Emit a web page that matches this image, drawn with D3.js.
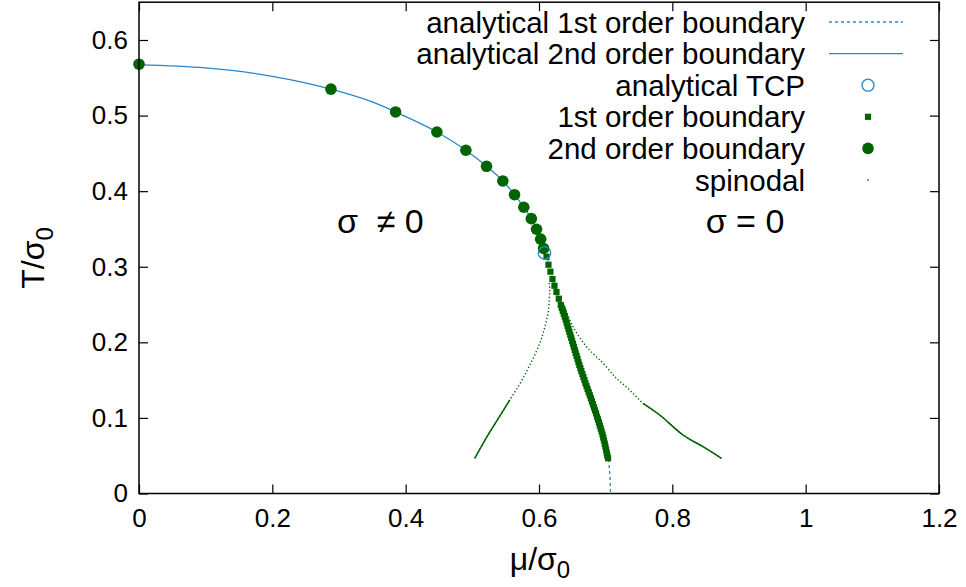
<!DOCTYPE html>
<html><head><meta charset="utf-8">
<script src="https://cdn.jsdelivr.net/npm/d3@7"></script>
<style>body{margin:0;background:#fff}svg{display:block}text{font-family:"Liberation Sans",Arial,sans-serif;fill:#000}</style>
</head><body><svg id="c" width="966" height="587"></svg>
<script>
// ---- data (mu/sigma0, T/sigma0) ----
const xTicks = [0, 0.2, 0.4, 0.6, 0.8, 1, 1.2];
const yTicks = [0, 0.1, 0.2, 0.3, 0.4, 0.5, 0.6];
const legendLabels = ["analytical 1st order boundary","analytical 2nd order boundary","analytical TCP","1st order boundary","2nd order boundary","spinodal"];

const analytic2nd = [[0,0.567],[0.1,0.563],[0.2,0.552],[0.2879,0.535],[0.35,0.518],[0.3849,0.5048],[0.4468,0.4783],[0.4903,0.4541],[0.5213,0.4329],[0.5457,0.4135],[0.5633,0.3953],[0.5772,0.3787],[0.5885,0.3636],[0.5963,0.3496],[0.6025,0.3365],[0.6069,0.3242],[0.6082,0.3183]];
const analytic1st = [[0.6082,0.3183],[0.6113,0.3133],[0.6171,0.2935],[0.6262,0.2666],[0.6327,0.2494],[0.6387,0.2339],[0.6537,0.1899],[0.6697,0.1458],[0.6871,0.1016],[0.6946,0.0797],[0.7001,0.0598],[0.7036,0.0466],[0.7058,0.030],[0.7068,0.015],[0.7071,0.0]];
const tcp = [[0.6082,0.3183]];
const order2 = [[0,0.568],[0.2879,0.535],[0.3849,0.5048],[0.4468,0.4783],[0.4903,0.4541],[0.5213,0.4329],[0.5457,0.4135],[0.5633,0.3953],[0.5772,0.3787],[0.5885,0.3636],[0.5963,0.3496],[0.6025,0.3365],[0.6069,0.3242]];
const order1 = [[0.6113,0.3133],[0.6142,0.3027],[0.6171,0.2935],[0.6202,0.2838],[0.6232,0.2749],[0.6262,0.2666],[0.6297,0.2577],[0.6327,0.2494],
[0.6342,0.2455],[0.6357,0.2416],[0.6372,0.2378],[0.6387,0.2339],[0.6401,0.2300],[0.6415,0.2260],[0.6428,0.2220],[0.6442,0.2180],[0.6455,0.2140],[0.6469,0.2100],[0.6483,0.2060],[0.6496,0.2020],[0.6510,0.1980],[0.6523,0.1940],[0.6537,0.1899],[0.6550,0.1860],[0.6564,0.1820],[0.6578,0.1780],[0.6591,0.1740],[0.6605,0.1700],[0.6620,0.1660],[0.6635,0.1620],[0.6651,0.1580],[0.6666,0.1540],[0.6682,0.1500],[0.6697,0.1458],[0.6713,0.1420],[0.6729,0.1380],[0.6746,0.1340],[0.6762,0.1300],[0.6778,0.1260],[0.6794,0.1220],[0.6809,0.1180],[0.6825,0.1140],[0.6840,0.1100],[0.6856,0.1060],[0.6871,0.1016],[0.6885,0.0980],[0.6899,0.0940],[0.6912,0.0900],[0.6926,0.0860],[0.6940,0.0820],[0.6953,0.0780],[0.6964,0.0740],[0.6975,0.0700],[0.6986,0.0660],[0.6996,0.0620],[0.7006,0.0580],[0.7016,0.0540],[0.7025,0.0500],[0.7036,0.0466]];
const spinodalLeft = [[0.6154,0.2785],[0.6162,0.2693],[0.6154,0.2560],[0.6136,0.2384],[0.6102,0.2252],[0.6061,0.2120],[0.6012,0.1987],[0.5937,0.1833],[0.5862,0.1700],[0.5787,0.1568],[0.5687,0.1413],[0.5562,0.1237],[0.5438,0.1061],[0.5312,0.0884],[0.5162,0.0664],[0.5037,0.0466]];
const spinodalRight = [[0.6387,0.2472],[0.6511,0.2207],[0.6712,0.1942],[0.6961,0.1723],[0.7162,0.1524],[0.7361,0.1369],[0.7561,0.1193],[0.7811,0.1039],[0.8160,0.0774],[0.8460,0.0619],[0.8736,0.0466]];
const annotations = [{t:"σ  ≠ 0", mu:0.362, T:0.345},{t:"σ = 0", mu:0.909, T:0.345}];

// ---- layout ----
const svg = d3.select("#c");
const L=139, R=939, T0=2.2, B=493.5;
const x = d3.scaleLinear().domain([0,1.2]).range([L,R]);
const y = d3.scaleLinear().domain([0,0.65]).range([B,T0]);
const blue="#2a86c9", green="#006400";

// axes (gnuplot style: inward ticks on all sides)
const tickLen=9;
svg.append("g").attr("transform",`translate(0,${B})`)
  .call(d3.axisBottom(x).tickValues(xTicks).tickFormat(d3.format("~g")).tickSizeInner(-tickLen).tickSizeOuter(0).tickPadding(15))
  .call(g=>{g.select(".domain").remove();g.selectAll("line").attr("stroke","#000").attr("stroke-width",1.2);g.selectAll("text").attr("font-size",26).attr("dy","0.71em");});
svg.append("g").attr("transform",`translate(0,${T0})`)
  .call(d3.axisTop(x).tickValues(xTicks).tickFormat("").tickSizeInner(-tickLen).tickSizeOuter(0))
  .call(g=>{g.select(".domain").remove();g.selectAll("line").attr("stroke","#000").attr("stroke-width",1.2);});
svg.append("g").attr("transform",`translate(${L},0)`)
  .call(d3.axisLeft(y).tickValues(yTicks).tickFormat(d3.format("~g")).tickSizeInner(-tickLen).tickSizeOuter(0).tickPadding(11))
  .call(g=>{g.select(".domain").remove();g.selectAll("line").attr("stroke","#000").attr("stroke-width",1.2);g.selectAll("text").attr("font-size",26);});
svg.append("g").attr("transform",`translate(${R},0)`)
  .call(d3.axisRight(y).tickValues(yTicks).tickFormat("").tickSizeInner(-tickLen).tickSizeOuter(0))
  .call(g=>{g.select(".domain").remove();g.selectAll("line").attr("stroke","#000").attr("stroke-width",1.2);});

// axis titles
const yl = svg.append("text").attr("transform","translate(44,258) rotate(-90)").attr("text-anchor","middle").attr("font-size",32);
yl.append("tspan").text("T/σ");
yl.append("tspan").attr("font-size",24).attr("dy",9).text("0");
const xl = svg.append("text").attr("x",540).attr("y",570).attr("text-anchor","middle").attr("font-size",32);
xl.append("tspan").text("μ/σ");
xl.append("tspan").attr("font-size",24).attr("dy",8).text("0");

// annotations
svg.selectAll("text.ann").data(annotations).join("text").attr("class","ann")
  .attr("x",d=>x(d.mu)).attr("y",d=>y(d.T)).attr("text-anchor","middle").attr("font-size",34)
  .style("white-space","pre").text(d=>d.t);

const mkLine = c => d3.line().x(d=>x(d[0])).y(d=>y(d[1])).curve(c);
const plot = svg.append("g");

// spinodal (tiny dots; sparse near the top, dense lower down)
[spinodalLeft, spinodalRight].forEach(s=>{
  plot.append("path").attr("d",mkLine(d3.curveCatmullRom)(s)).attr("fill","none").attr("stroke",green)
    .attr("stroke-width",1.4).attr("stroke-dasharray","1.3,2.2");
  plot.append("path").attr("d",mkLine(d3.curveCatmullRom)(s.filter(d=>d[1]<=0.125))).attr("fill","none").attr("stroke",green)
    .attr("stroke-width",1.5);
});

// analytical lines
plot.append("path").attr("d",mkLine(d3.curveMonotoneY)(analytic1st))
  .attr("fill","none").attr("stroke",blue).attr("stroke-width",1.3).attr("stroke-dasharray","3,3");
plot.append("path").attr("d",mkLine(d3.curveMonotoneX)(analytic2nd))
  .attr("fill","none").attr("stroke",blue).attr("stroke-width",1.3);

// 1st order boundary squares
const sq=6.2;
plot.selectAll("rect.o1").data(order1).join("rect").attr("class","o1")
  .attr("x",d=>x(d[0])-sq/2).attr("y",d=>y(d[1])-sq/2).attr("width",sq).attr("height",sq).attr("fill",green);
// 2nd order boundary circles
plot.selectAll("circle.o2").data(order2).join("circle").attr("class","o2")
  .attr("cx",d=>x(d[0])).attr("cy",d=>y(d[1])).attr("r",5.8).attr("fill",green);
// TCP
plot.selectAll("circle.tcp").data(tcp).join("circle").attr("class","tcp")
  .attr("cx",d=>x(d[0])).attr("cy",d=>y(d[1])).attr("r",6.2).attr("fill","none").attr("stroke",blue).attr("stroke-width",1.3);

// frame
svg.append("rect").attr("x",L).attr("y",T0).attr("width",R-L).attr("height",B-T0).attr("fill","none").attr("stroke","#000").attr("stroke-width",1.5);

// legend
const lg = svg.append("g");
const rowY = i => 22 + i*31.6;
const tx=805, sx0=829, sx1=903, sxm=868;
lg.selectAll("text").data(legendLabels).join("text").attr("x",tx).attr("y",(d,i)=>rowY(i)).attr("dy","0.36em")
  .attr("text-anchor","end").attr("font-size",29.5).text(d=>d);
lg.append("line").attr("x1",sx0).attr("x2",sx1).attr("y1",rowY(0)).attr("y2",rowY(0)).attr("stroke",blue).attr("stroke-width",1.3).attr("stroke-dasharray","3,3");
lg.append("line").attr("x1",sx0).attr("x2",sx1).attr("y1",rowY(1)).attr("y2",rowY(1)).attr("stroke",blue).attr("stroke-width",1.3);
lg.append("circle").attr("cx",sxm).attr("cy",rowY(2)).attr("r",6).attr("fill","none").attr("stroke",blue).attr("stroke-width",1.3);
lg.append("rect").attr("x",sxm-sq/2).attr("y",rowY(3)-sq/2).attr("width",sq).attr("height",sq).attr("fill",green);
lg.append("circle").attr("cx",sxm).attr("cy",rowY(4)).attr("r",5.8).attr("fill",green);
lg.append("rect").attr("x",sxm-0.75).attr("y",rowY(5)-0.75).attr("width",1.5).attr("height",1.5).attr("fill",green);
</script></body></html>
